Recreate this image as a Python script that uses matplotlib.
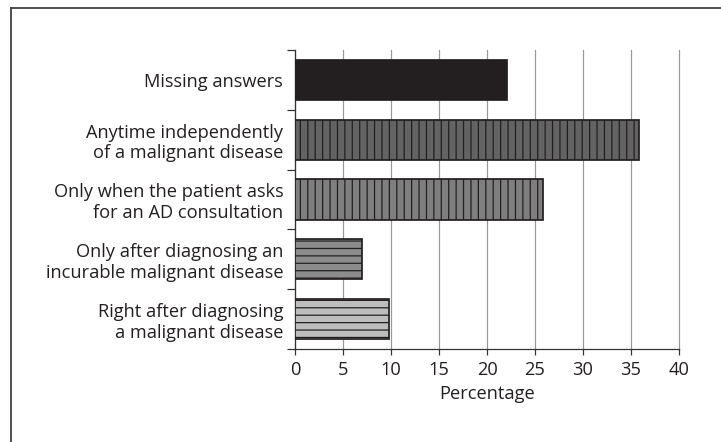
import matplotlib
matplotlib.use("Agg")
import matplotlib.pyplot as plt
from matplotlib.lines import Line2D
import numpy as np

# --- data (percentages) ---
categories = [
    "Missing answers",
    "Anytime independently\nof a malignant disease",
    "Only when the patient asks\nfor an AD consultation",
    "Only after diagnosing an\nincurable malignant disease",
    "Right after diagnosing\na malignant disease",
]
values = [22.1, 35.8, 25.8, 7.0, 9.8]
fills = ["#231f20", "#636363", "#7f7f7f", "#8c8c8c", "#bdbdbe"]
hatches = ["", "||", "||", "--", "--"]
x_ticks = [0, 5, 10, 15, 20, 25, 30, 35, 40]

plt.rcParams["font.family"] = ["Open Sans", "DejaVu Sans"]
plt.rcParams["hatch.linewidth"] = 1.0

DPI = 89
FS = 14.8
fig = plt.figure(figsize=(721 / DPI, 442 / DPI), dpi=DPI)
ax = fig.add_axes([295 / 721, 1 - 349 / 442, 384 / 721, 299 / 442])

y = np.arange(len(categories))
for yi, v, c, h in zip(y, values, fills, hatches):
    ax.barh(yi, v, height=0.67, color=c, edgecolor="#231f20",
            linewidth=1.4, hatch=h, zorder=3)

ax.set_xlim(0, 40)
ax.set_ylim(len(categories) - 0.5, -0.5)
ax.set_xticks(x_ticks)
ax.set_xticklabels([str(t) for t in x_ticks], fontsize=FS, color="#231f20")
ax.set_yticks(y)
ax.set_yticklabels(categories, fontsize=FS, color="#231f20", linespacing=1.2)
ax.set_yticks(np.arange(-0.5, len(categories)), minor=True)
ax.tick_params(axis="y", which="major", length=0, pad=9.5)
ax.tick_params(axis="y", which="minor", length=6.5, width=1, color="#333333")
ax.tick_params(axis="x", length=4.5, width=1, color="#333333", pad=5)

for s in ["top", "right"]:
    ax.spines[s].set_visible(False)
for s in ["left", "bottom"]:
    ax.spines[s].set_color("#333333")
    ax.spines[s].set_linewidth(1.0)

ax.grid(axis="x", color="#999999", linewidth=1.0, zorder=0)
for gl in ax.get_xgridlines():
    gl.set_clip_on(False)
ax.set_axisbelow(True)
ax.set_xlabel("Percentage", fontsize=FS, color="#231f20", labelpad=5)

# outer frame of the figure panel (top and left edges)
fig.add_artist(Line2D([10.5 / 721, 1], [1 - 7.5 / 442, 1 - 7.5 / 442],
                      transform=fig.transFigure, color="#3a3a3a", lw=1.4))
fig.add_artist(Line2D([10.5 / 721, 10.5 / 721], [0, 1 - 7.5 / 442],
                      transform=fig.transFigure, color="#3a3a3a", lw=1.4))

fig.savefig("out.png", dpi=DPI)
